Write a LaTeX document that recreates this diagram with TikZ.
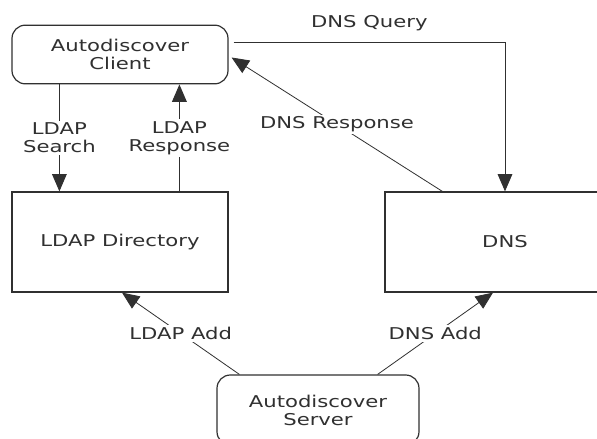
\documentclass[tikz,border=0pt]{standalone}
\usepackage{fontspec}
\newfontfamily\vfont[FakeStretch=1.3]{DejaVu Sans}
\usetikzlibrary{arrows.meta,calc}
\definecolor{ink}{HTML}{303030}

\begin{document}
\begin{tikzpicture}[x=0.75pt,y=-0.75pt,
  every node/.style={font={\vfont\fontsize{12.2pt}{13.5pt}\selectfont},text=ink,align=center},
  endpoint/.style={draw=ink,line width=0.9pt,rounded corners=10pt},
  store/.style={draw=ink,line width=0.9pt,minimum height=75pt},
  msg/.style={draw=ink,line width=0.75pt,-{Triangle[length=13pt,width=11pt]}},
  lbl/.style={fill=white,inner sep=1.5pt}]
  \clip (0,0) rectangle (597,439);
  \fill[white] (0,0) rectangle (597,439);
  % Clients and servers (rounded)
  \node[endpoint,minimum width=162pt,minimum height=44pt]   (client) at (120,54.5) {Autodiscover\\Client};
  \node[endpoint,minimum width=151.5pt,minimum height=52.5pt] (server) at (318,410) {Autodiscover\\Server};
  % Stores
  \node[store,minimum width=162pt] (ldap) at (120,242) {LDAP Directory};
  \node[store,minimum width=180pt] (dns)  at (505,242) {DNS};
  \coordinate (q0) at ($(client.east)+(5,-12.5)$);
  % Client side messages
  \draw[msg] ($(client.south west)+(48,0)$) -- ($(ldap.north west)+(48,0)$)
    node[lbl,midway] {LDAP\\Search};
  \draw[msg] ($(ldap.north west)+(168,0)$) -- ($(client.south west)+(168,0)$)
    node[lbl,midway] {LDAP\\Response};
  \draw[msg] (q0) -| node[pos=0.25,above=5pt] {DNS Query} (dns.north);
  \draw[msg,line width=0.6pt] ($(dns.north west)+(58,0)$) -- ($(client.east)+(3,3)$)
    node[lbl,midway] {DNS Response};
  % Server side messages
  \draw[msg,line width=0.6pt] ($(server.north west)+(23,0)$) -- ($(ldap.south)+(2,0)$)
    node[lbl,midway] {LDAP Add};
  \draw[msg,line width=0.6pt] ($(server.north east)+(-42,0)$) -- ($(dns.south)+(-12,0)$)
    node[lbl,midway] {DNS Add};
\end{tikzpicture}
\end{document}
